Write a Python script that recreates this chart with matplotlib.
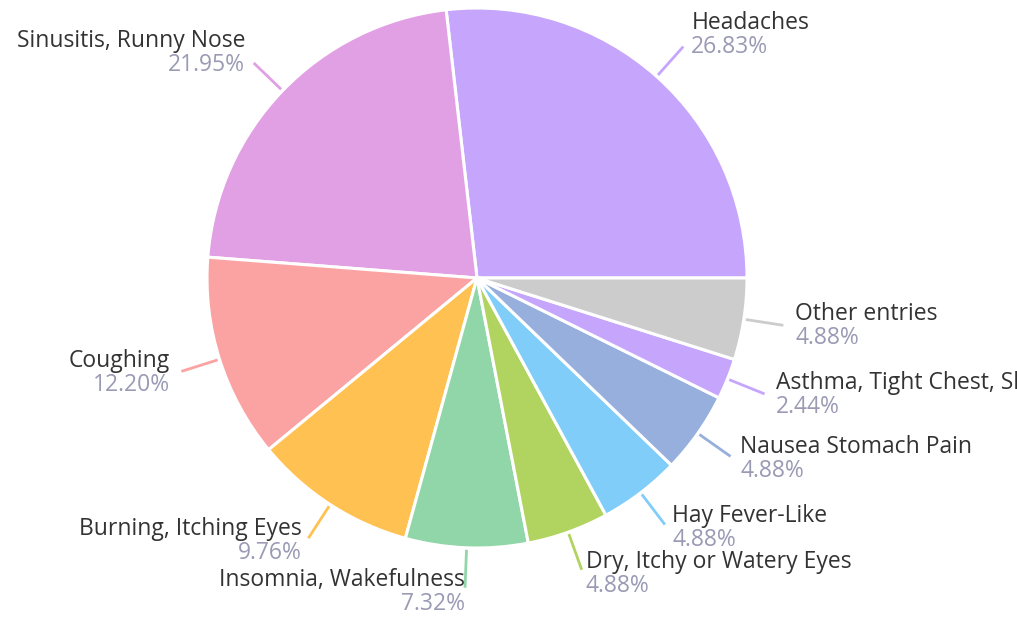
import numpy as np
import matplotlib
matplotlib.use("Agg")
import matplotlib.pyplot as plt

# dados do grafico
categorias = ["Headaches", "Sinusitis, Runny Nose", "Coughing", "Burning, Itching Eyes",
              "Insomnia, Wakefulness", "Dry, Itchy or Watery Eyes", "Hay Fever-Like",
              "Nausea Stomach Pain", "Asthma, Tight Chest, Shortness of Breath", "Other entries"]
valores = [26.83, 21.95, 12.20, 9.76, 7.32, 4.88, 4.88, 4.88, 2.44, 4.88]
cores = ["#c5a6fc", "#e2a0e4", "#fba3a3", "#ffc252", "#91d6a9",
         "#b1d460", "#81cdf9", "#97afdc", "#c5a6fc", "#cccccc"]

plt.rcParams['font.family'] = ['Open Sans', 'DejaVu Sans']

fig = plt.figure(figsize=(10.17, 6.19), dpi=100)
ax = fig.add_axes([0, 0, 1, 1])

cx, cy, R = 477, 341, 270
ax.pie(valores, colors=cores, startangle=0, counterclock=True, center=(cx, cy),
       radius=R, wedgeprops=dict(edgecolor='white', linewidth=2.2))
ax.set_xlim(0, 1017)
ax.set_ylim(0, 619)
ax.set_aspect('equal')
ax.axis('off')

total = sum(valores)
acum = 0
for nome, v, c in zip(categorias, valores, cores):
    ang = np.deg2rad((acum + v / 2) / total * 360)
    acum += v
    cs, sn = np.cos(ang), np.sin(ang)
    x0, y0 = cx + 272 * cs, cy + 272 * sn
    x1, y1 = cx + 310 * cs, cy + 310 * sn
    ax.plot([x0, x1], [y0, y1], color=c, linewidth=2, solid_capstyle='butt')

    # posicao do rotulo
    gap = 12 * abs(cs)
    dy = 15 * sn if sn > 0 else 4 * sn
    ha = 'left' if cs > 0 else 'right'
    tx = x1 + gap if cs > 0 else x1 - gap
    ty = y1 + dy
    ax.text(tx, ty + 12, nome, ha=ha, va='center', fontsize=16.5, color='#333333')
    ax.text(tx, ty - 12, f"{v:.2f}%", ha=ha, va='center', fontsize=16.5, color='#9a9ab5')

fig.savefig("out.png", dpi=100)
